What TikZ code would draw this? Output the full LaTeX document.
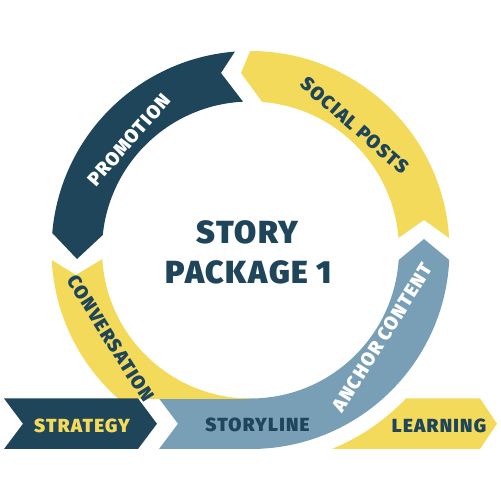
\documentclass[tikz,border=0pt]{standalone}
\usepackage{fontspec}
\usetikzlibrary{calc}
\newfontfamily\hv{Fira Sans Black}[LetterSpace=5]
\newfontfamily\hvs{Fira Sans Black}[LetterSpace=6.5]
\definecolor{navy}{HTML}{1F455B}
\definecolor{gold}{HTML}{F3DA5A}
\definecolor{slate}{HTML}{789FB5}
\tikzset{
  big/.style={font=\hv\fontsize{18.2}{20}\selectfont, text=navy, inner sep=0pt},
  lbl/.style={font=\hvs\fontsize{10.8}{12}\selectfont, inner sep=0pt},
}
\begin{document}
\begin{tikzpicture}[x=0.02cm,y=0.02cm]
\useasboundingbox (0,0) rectangle (500,500);
\coordinate (C) at (250.5,250);
% promotion
\fill[navy] ($(C)+(175.1:199)$) arc[start angle=175.1, end angle=94.5, radius=199]
  -- (221,427) -- ($(C)+(92.9:148.5)$) arc[start angle=92.9, end angle=174.2, radius=148.5]
  -- (77,241) -- cycle;
% social posts
\fill[gold] ($(C)+(90.1:199)$) arc[start angle=90.1, end angle=3.44, radius=199]
  -- (424,280) -- ($(C)+(4.65:148.5)$) arc[start angle=4.65, end angle=85.5, radius=148.5]
  -- (241,427) -- cycle;
% anchor content + storyline
\fill[slate] ($(C)+(-2.87:199)$) arc[start angle=-2.87, end angle=-90, radius=199]
  -- (159,51) -- (178,76.25) -- (159,101.5) -- ($(C)+(-90:148.5)$)
  arc[start angle=-90, end angle=-3.88, radius=148.5] -- (424,261) -- cycle;
% conversation
\begin{scope}
\clip (0,101.5) rectangle (500,500);
\fill[gold] ($(C)+(182.9:199)$) arc[start angle=182.9, end angle=270, radius=199]
  -- ($(C)+(-90:148.5)$) arc[start angle=270, end angle=183.5, radius=148.5]
  -- (76,225) -- cycle;
\end{scope}
% strategy
\fill[navy] (4,101.5) -- (138,101.5) -- (157,76.25) -- (138,51) -- (4,51) -- (23,76.25) -- cycle;
% learning
\fill[gold] ($(C)+(-67.75:215)$) arc[start angle=-67.75, end angle=-43.68, radius=215]
  -- (480,101.5) -- (497,76.25) -- (480,51) -- cycle;
% texts
\node[big] (story) at (247.5,268) {STORY};
\node[big] (pack) at (249,228) {PACKAGE 1};
\node[lbl, text=gold] (strat) at (82,74.5) {STRATEGY};
\node[lbl, text=navy] (line) at (257.5,75) {STORYLINE};
\node[lbl, text=navy] (learn) at (439,74.5) {LEARNING};
\node[lbl, text=white, rotate=48.7] (promo) at (129,360) {PROMOTION};
\node[lbl, text=navy, rotate=-41.1] (social) at (355,374.5) {SOCIAL POSTS};
\node[lbl, text=navy, rotate=-57.7] (conv) at (110.5,161.5) {CONVERSATION};
\node[lbl, text=white, rotate=57.8] (anchor) at (382.5,162.5) {ANCHOR CONTENT};
\end{tikzpicture}
\end{document}
